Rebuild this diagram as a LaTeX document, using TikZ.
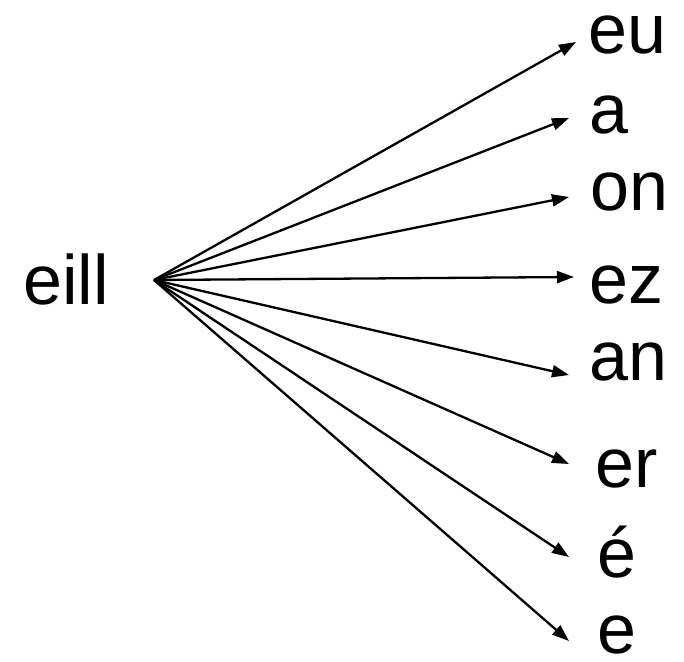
\documentclass[tikz,border=0pt]{standalone}
\usepackage{fontspec}
\setmainfont{Liberation Sans}
\usetikzlibrary{arrows.meta}
\begin{document}
\begin{tikzpicture}[x=1pt,y=-1pt,
  lbl/.style={anchor=base west,inner sep=0pt,text height=0.55em,text depth=0pt,font=\fontsize{70}{76}\selectfont},
  conn/.style={line width=2.3pt,-{Triangle[length=17pt,width=12pt]}}]
\useasboundingbox (0,0) rectangle (684,661);
\fill[white] (0,0) rectangle (684,661);
\node[lbl,text height=0.75em] (eill) at (23,304) {eill};
\coordinate (src) at (154,280);
\node[lbl] (eu) at (588,53) {eu};
\node[lbl] (a) at (589,133) {a};
\node[lbl] (on) at (590,210) {on};
\node[lbl] (ez) at (589,303) {ez};
\node[lbl] (an) at (589,380) {an};
\node[lbl] (er) at (595,487) {er};
\node[lbl,text height=0.78em] (eacute) at (597,577) {é};
\node[lbl] (e) at (597,653) {e};
\coordinate (teu) at (576,42);
\coordinate (ta) at (569,118);
\coordinate (ton) at (569,197);
\coordinate (tez) at (574,277);
\coordinate (tan) at (569,375);
\coordinate (ter) at (569,464);
\coordinate (teacute) at (569,557);
\coordinate (te) at (569,641);
\foreach \t in {teu,ta,ton,tez,tan,ter,teacute,te}
  \draw[conn] (src) -- (\t);
\end{tikzpicture}
\end{document}
